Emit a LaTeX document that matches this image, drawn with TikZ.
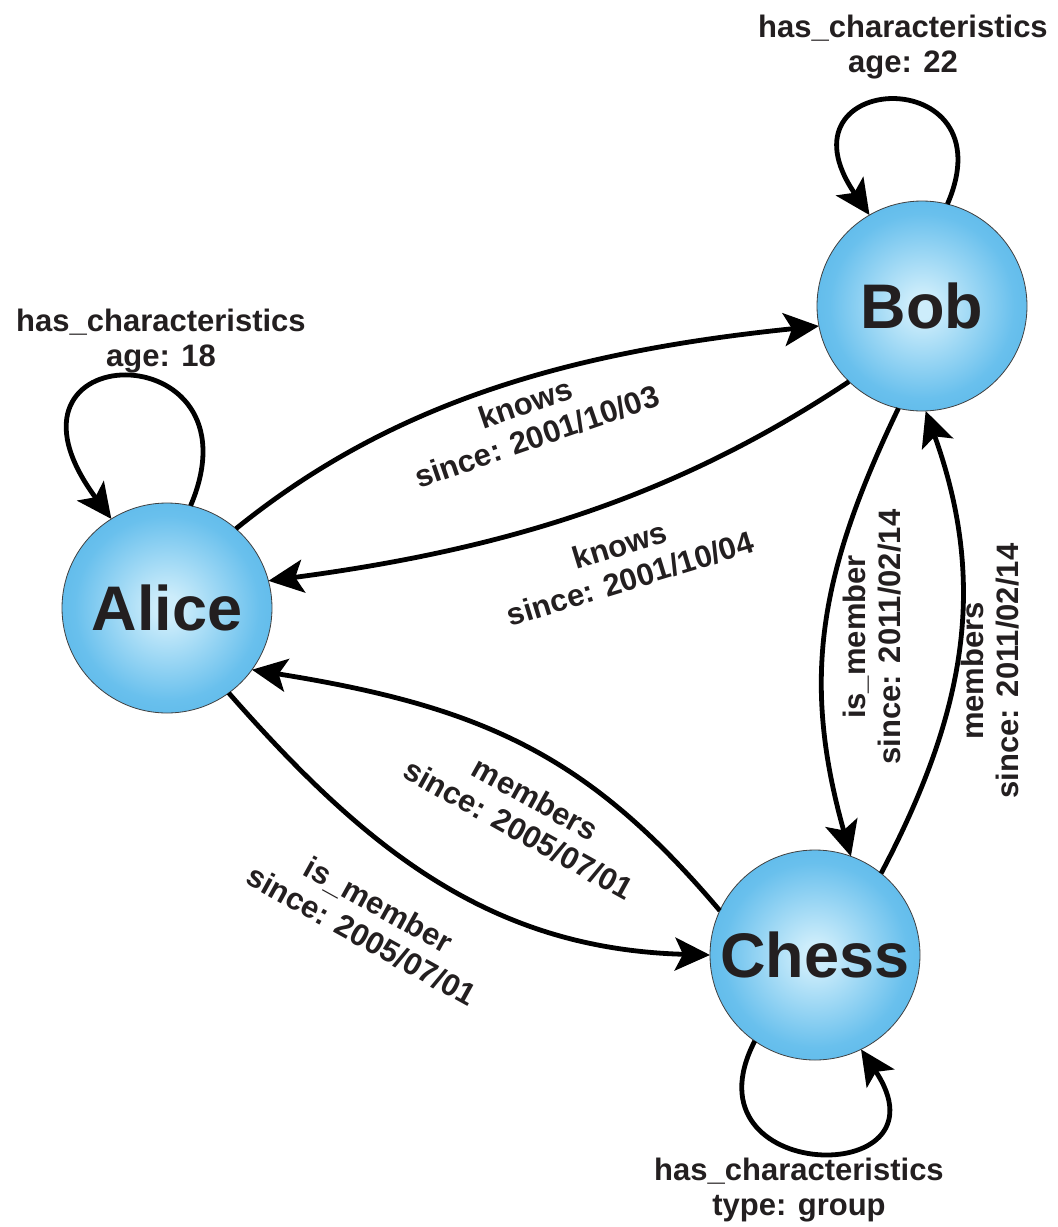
\documentclass[tikz,border=0pt]{standalone}
\usepackage{fontspec}
\setmainfont{Liberation Sans}
\usetikzlibrary{arrows.meta}
\definecolor{ballin}{RGB}{205,237,251}
\definecolor{ballmid}{RGB}{105,192,237}
\definecolor{ballout}{RGB}{52,162,223}
\definecolor{ink}{RGB}{35,31,32}
\pgfdeclareradialshading{ballshade}{\pgfpoint{0bp}{0bp}}{color(0bp)=(ballin); color(3bp)=(ballin); color(22bp)=(ballmid); color(50bp)=(ballout)}
\begin{document}
\begin{tikzpicture}[x=1pt,y=-1pt,
  ball/.style={circle, minimum size=210pt, inner sep=0pt, outer sep=0pt, shading=ballshade, draw=black!75, line width=0.8pt, font=\fontsize{63pt}{70pt}\selectfont\bfseries, text=ink},
  lbl/.style={align=center, font=\fontsize{31pt}{35pt}\selectfont\bfseries, inner sep=0pt, text=ink},
  rel/.style={line width=4.8pt, draw=black, -{Stealth[length=35pt,width=33pt,inset=8pt]}}]
\useasboundingbox[fill=white] (0,0) rectangle (1058,1227);
\node[ball] (alice) at (167,608) {Alice};
\node[ball] (bob) at (922,306) {Bob};
\node[ball] (chess) at (815,955) {Chess};
% relations
\draw[rel] (alice.49) .. controls (390,404) and (565,352) .. (bob.191);
\draw[rel] (bob.226) .. controls (683,492) and (517,548) .. (alice.15);
\draw[rel] (bob.257) .. controls (819,574) and (801,679) .. (chess.70);
\draw[rel] (chess.51) .. controls (966,712) and (988,584) .. (bob.272);
\draw[rel] (chess.155) .. controls (589,756) and (485,707) .. (alice.324);
\draw[rel] (alice.306) .. controls (364,847) and (488,949) .. (chess.180);
% loops
\draw[rel] (bob.76) .. controls (1010,60) and (770,70) .. (bob.120);
\draw[rel] (alice.77) .. controls (265,330) and (-25,335) .. (alice.122);
\draw[rel] (chess.235) .. controls (680,1185) and (955,1190) .. (chess.296);
% labels
\node[lbl] (lb1) at (903,47) {has\_characteristics\\age: 22};
\node[lbl] (la1) at (161,341) {has\_characteristics\\age: 18};
\node[lbl] (lc1) at (799,1190) {has\_characteristics\\type: group};
\node[lbl, rotate=19] (k1) at (531,420) {knows\\since: 2001/10/03};
\node[lbl, rotate=17] (k2) at (625,562) {knows\\since: 2001/10/04};
\node[lbl, rotate=90] (m1) at (872,637) {is\_member\\since: 2011/02/14};
\node[lbl, rotate=90] (m2) at (990,671) {members\\since: 2011/02/14};
\node[lbl, rotate=-29] (m3) at (527,814) {members\\since: 2005/07/01};
\node[lbl, rotate=-29] (m4) at (370,920) {is\_member\\since: 2005/07/01};
\end{tikzpicture}
\end{document}
